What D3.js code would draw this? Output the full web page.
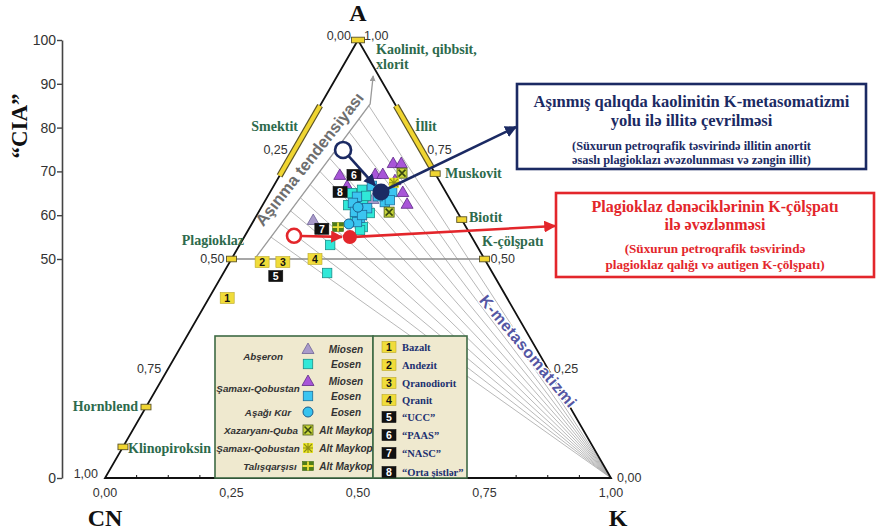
<!DOCTYPE html>
<html><head><meta charset="utf-8">
<script src="https://cdn.jsdelivr.net/npm/d3@7"></script>
<style>body{margin:0;background:#fff}svg{display:block}</style>
</head><body>
<svg id="chart" width="881" height="531"></svg>
<script>
// ---- data: compositions as [A, CN, K] molar fractions ----
const abseronMiosen = [[0.589,0.294,0.117],[0.637,0.152,0.211]];
const abseronEosen = [
  [0.651,0.187,0.163],[0.658,0.163,0.179],[0.628,0.176,0.196],[0.612,0.194,0.194],
  [0.596,0.208,0.196],[0.573,0.204,0.223],[0.605,0.174,0.221],[0.532,0.289,0.179],
  [0.468,0.327,0.205],[0.566,0.213,0.221],[0.644,0.162,0.194],[0.623,0.208,0.169]];
const samaxiMiosen = [
  [0.692,0.190,0.118],[0.667,0.188,0.145],[0.694,0.119,0.187],[0.694,0.104,0.202],
  [0.719,0.071,0.210],[0.719,0.055,0.226],[0.680,0.087,0.233],[0.653,0.085,0.262],
  [0.626,0.090,0.284]];
const samaxiEosen = [
  [0.642,0.181,0.177],[0.628,0.196,0.176],[0.616,0.174,0.210],[0.594,0.199,0.207],
  [0.585,0.210,0.206],[0.630,0.132,0.238],[0.653,0.106,0.241],[0.607,0.202,0.190],
  [0.601,0.192,0.208],[0.644,0.139,0.218],[0.635,0.120,0.246],[0.667,0.139,0.194]];
const asagiKurEosen = [[0.619,0.191,0.191],[0.580,0.228,0.192]];
const xazaryaniAltMaykop = [[0.696,0.065,0.239],[0.607,0.135,0.258]];
const samaxiAltMaykop = [[0.674,0.092,0.234]];
const talisAltMaykop = [[0.573,0.253,0.174]];

// reference rocks and average compositions
const refLabels = ["1","2","3","4","5","6","7","8"];
const refNames = ["Bazalt","Andezit","Qranodiorit","Qranit","\u201CUCC\u201D","\u201CPAAS\u201D","\u201CNASC\u201D","\u201COrta \u015Fistl\u0259r\u201D"];
const refValues = [
  [0.411,0.553,0.036],[0.493,0.443,0.064],[0.493,0.402,0.105],[0.500,0.335,0.165],
  [0.461,0.432,0.107],[0.692,0.162,0.146],[0.569,0.287,0.144],[0.653,0.209,0.138]];

// predicted (open) and observed mean (filled) compositions
const illitePath = [[0.749,0.155,0.096],[0.653,0.128,0.219]];
const kfsPath = [[0.553,0.350,0.097],[0.550,0.241,0.209]];

// weathering trend (polyline) and K-metasomatism tie-lines (A value where each meets the trend)
const trendLine = [[0.502,0.452,0.046],[0.854,0.049,0.097],[0.918,0.011,0.071]];
const tieLineA = [0.55,0.58,0.61,0.64,0.67,0.70,0.73,0.76,0.79,0.82,0.85];

// mineral reference positions
const edgeMinerals = [
  {name:"Plagioklaz", v:[0.5,0.5,0]},
  {name:"K-\u00E7\u00F6l\u015Fpat\u0131", v:[0.5,0,0.5]},
  {name:"Biotit", v:[0.59,0,0.41]},
  {name:"Muskovit", v:[0.695,0,0.305]},
  {name:"Hornblend", v:[0.162,0.838,0]},
  {name:"Klinopiroksin", v:[0.071,0.929,0]},
  {name:"Kaolinit", v:[1,0,0]}];
const smectiteRange = [0.69,0.85];
const illiteRange = [0.71,0.85];

const edgeTicks = [0,0.25,0.5,0.75,1];
const baseMinorTicks = [0.0625,0.125,0.1875,0.3125,0.375,0.4375,0.5625,0.625,0.6875,0.8125,0.875,0.9375];
const ciaTicks = [0,50,60,70,80,90,100];

// ---- layout ----
const svg = d3.select("#chart");
const xB = d3.scaleLinear().domain([0,1]).range([105,611]);
const yA = d3.scaleLinear().domain([0,1]).range([478,40]);
const yCIA = d3.scaleLinear().domain([0,100]).range([478,40]);
function proj(v){const s=v[0]+v[1]+v[2];const a=v[0]/s,k=v[2]/s;return [xB(k+a/2),yA(a)];}

const defs = svg.append("defs");
function arrowMarker(id,color){
  defs.append("marker").attr("id",id).attr("viewBox","0 0 10 10").attr("refX",9).attr("refY",5)
    .attr("markerWidth",4.6).attr("markerHeight",4.6).attr("orient","auto")
    .append("path").attr("d","M0,0 L10,5 L0,10 Z").attr("fill",color);
}
arrowMarker("arrNavy","#1b2a63");
arrowMarker("arrRed","#e3262b");
arrowMarker("arrGray","#9a9a9a");

const serif = "'Liberation Serif','Times New Roman',serif";
const sans = "'Liberation Sans',Arial,sans-serif";
const green = "#2d6a4c";

// CIA scale
const ciaAxis = d3.axisLeft(yCIA).tickValues(ciaTicks).tickSize(5).tickSizeOuter(0).tickFormat(d3.format("d"));
const gC = svg.append("g").attr("transform","translate(62,0)").call(ciaAxis);
gC.select(".domain").attr("stroke","#444").attr("stroke-width",1.6);
gC.selectAll(".tick line").attr("stroke","#444").attr("stroke-width",1.4);
gC.selectAll(".tick text").attr("font-family",sans).attr("font-size",14).attr("fill","#333").attr("x",-6);
svg.append("text").attr("transform","translate(27,126) rotate(-90)").attr("text-anchor","middle")
  .attr("font-family",serif).attr("font-weight","bold").attr("font-size",23).attr("fill","#111").text("\u201CCIA\u201D");

// tie-lines from K apex to the lower leg of the weathering trend
const kApex = proj([0,0,1]);
const t0 = trendLine[0], t1 = trendLine[1];
function trendAt(a){const f=(a-t0[0])/(t1[0]-t0[0]);return [a,t0[1]+f*(t1[1]-t0[1]),t0[2]+f*(t1[2]-t0[2])];}
svg.append("g").selectAll("line").data(tieLineA).join("line")
  .attr("x1",kApex[0]).attr("y1",kApex[1])
  .attr("x2",d=>proj(trendAt(d))[0]).attr("y2",d=>proj(trendAt(d))[1])
  .attr("stroke","#ababab").attr("stroke-width",0.85);

// feldspar join A = 0.5
const pl = proj([0.5,0.5,0]), kf = proj([0.5,0,0.5]);
svg.append("line").attr("x1",pl[0]).attr("y1",pl[1]).attr("x2",kf[0]).attr("y2",kf[1])
  .attr("stroke","#8a8a8a").attr("stroke-width",1.3);

// weathering trend arrow
const tp = trendLine.map(proj);
svg.append("path").attr("d",d3.line()(tp)).attr("fill","none")
  .attr("stroke","#9a9a9a").attr("stroke-width",1.3).attr("marker-end","url(#arrGray)");
const ang = Math.atan2(tp[1][1]-tp[0][1],tp[1][0]-tp[0][0]);
const along = 0.58, off = 10; // label sits on the left side of the lower leg
const mx = tp[0][0]+along*(tp[1][0]-tp[0][0]), my = tp[0][1]+along*(tp[1][1]-tp[0][1]);
const tx = mx + off*Math.sin(ang), ty = my - off*Math.cos(ang);
svg.append("text").attr("transform",`translate(${tx},${ty}) rotate(${ang*180/Math.PI+1.5})`)
  .attr("text-anchor","middle").attr("font-family",sans).attr("font-weight","bold").attr("font-size",16.5)
  .attr("fill","#6e6e6e").attr("stroke","#fff").attr("stroke-width",3).attr("paint-order","stroke")
  .text("A\u015F\u0131nma tendensiyas\u0131");

// triangle frame
const vA = proj([1,0,0]), vCN = proj([0,1,0]), vK = proj([0,0,1]);
svg.append("path").attr("d",`M${vA}L${vCN}L${vK}Z`).attr("fill","none").attr("stroke","#111").attr("stroke-width",1.8);
svg.append("g").selectAll("line").data(baseMinorTicks).join("line")
  .attr("x1",d=>xB(d)).attr("x2",d=>xB(d)).attr("y1",478).attr("y2",475).attr("stroke","#111").attr("stroke-width",1);

// edge tick labels
const tickFmt = d3.format(".2f");
const lab = d=>tickFmt(d).replace(".",",");
const tg = svg.append("g").attr("font-family",sans).attr("font-size",12.5).attr("fill","#333");
edgeTicks.forEach(t=>{
  const b = proj([0,1-t,t]);
  tg.append("text").attr("x",b[0]).attr("y",b[1]+19).attr("text-anchor","middle").text(lab(t));
  const l = proj([1-t,t,0]);
  tg.append("text").attr("x",l[0]-7).attr("y",l[1]+(t===0||t===1?0:4)).attr("text-anchor","end").text(lab(t));
  const r = proj([t,0,1-t]);
  tg.append("text").attr("x",r[0]+6).attr("y",r[1]+(t===1?0:4)).attr("text-anchor","start").text(lab(t));
});

// vertex names
const vt = svg.append("g").attr("font-family",serif).attr("font-weight","bold").attr("font-size",24).attr("fill","#111").attr("text-anchor","middle");
vt.append("text").attr("x",vA[0]).attr("y",21).text("A");
vt.append("text").attr("x",vCN[0]).attr("y",526).text("CN");
vt.append("text").attr("x",vK[0]+7).attr("y",526).text("K");

// clay bars on the edges
function edgeBar(p,q){
  svg.append("line").attr("x1",p[0]).attr("y1",p[1]).attr("x2",q[0]).attr("y2",q[1])
    .attr("stroke","#5a5226").attr("stroke-width",6.5);
  svg.append("line").attr("x1",p[0]).attr("y1",p[1]).attr("x2",q[0]).attr("y2",q[1])
    .attr("stroke","#f0d531").attr("stroke-width",4.2);
}
edgeBar(proj([smectiteRange[0],1-smectiteRange[0],0]),proj([smectiteRange[1],1-smectiteRange[1],0]));
edgeBar(proj([illiteRange[0],0,1-illiteRange[0]]),proj([illiteRange[1],0,1-illiteRange[1]]));

// mineral markers
edgeMinerals.forEach(m=>{
  const p = proj(m.v); const w = m.name==="Kaolinit"?13:10;
  svg.append("rect").attr("x",p[0]-w/2).attr("y",p[1]-2.8).attr("width",w).attr("height",5.6)
    .attr("fill","#f0d531").attr("stroke","#5a5226").attr("stroke-width",0.9);
});

// mineral names
const mg = svg.append("g").attr("font-family",serif).attr("font-weight","bold").attr("font-size",14).attr("fill",green);
mg.append("text").attr("x",376).attr("y",54).text("Kaolinit, qibbsit,");
mg.append("text").attr("x",376).attr("y",69).text("xlorit");
mg.append("text").attr("x",298).attr("y",131).attr("text-anchor","end").text("Smektit");
mg.append("text").attr("x",415).attr("y",131).text("\u0130llit");
mg.append("text").attr("x",445).attr("y",178).text("Muskovit");
mg.append("text").attr("x",469).attr("y",222).text("Biotit");
mg.append("text").attr("x",482).attr("y",246).text("K-\u00E7\u00F6l\u015Fpat\u0131");
mg.append("text").attr("x",244).attr("y",245).attr("text-anchor","end").text("Plagioklaz");
mg.append("text").attr("x",138).attr("y",411).attr("text-anchor","end").text("Hornblend");
mg.append("text").attr("x",128).attr("y",453).text("Klinopiroksin");

// K-metasomatism label
svg.append("text").attr("transform","translate(524,355) rotate(50)").attr("text-anchor","middle")
  .attr("font-family",sans).attr("font-weight","bold").attr("font-size",16).attr("letter-spacing",0.6).attr("fill","#5456a3")
  .attr("stroke","#fff").attr("stroke-width",2.5).attr("paint-order","stroke").text("K-metasomatizmi");

// ---- symbols ----
const symStyle = {
  triA:{fill:"#a99bcb",stroke:"#6d6296"},
  sqA:{fill:"#30e8d8",stroke:"#1b8f89"},
  triS:{fill:"#a855d8",stroke:"#5d2a86"},
  sqS:{fill:"#3bc5f1",stroke:"#1d6e9c"},
  circ:{fill:"#36c3ef",stroke:"#1b5c8c"},
  xq:{fill:"#c8d53a",stroke:"#4a5a14"},
  star:{fill:"#e9e42a",stroke:"#9a9a1a"},
  plus:{fill:"#e8da3a",stroke:"#3d6a16"}
};
function drawSym(g,type,x,y){
  const s = symStyle[type];
  if(type==="triA"||type==="triS"){
    g.append("path").attr("d",`M${x},${y-6}L${x+6},${y+4.5}L${x-6},${y+4.5}Z`).attr("fill",s.fill).attr("stroke",s.stroke).attr("stroke-width",0.8);
  } else if(type==="circ"){
    g.append("circle").attr("cx",x).attr("cy",y).attr("r",5).attr("fill",s.fill).attr("stroke",s.stroke).attr("stroke-width",1);
  } else if(type==="sqA"||type==="sqS"){
    g.append("rect").attr("x",x-4.7).attr("y",y-4.7).attr("width",9.4).attr("height",9.4).attr("fill",s.fill).attr("stroke",s.stroke).attr("stroke-width",0.8);
  } else if(type==="xq"){
    g.append("rect").attr("x",x-5).attr("y",y-5).attr("width",10).attr("height",10).attr("fill",s.fill).attr("stroke",s.stroke).attr("stroke-width",0.8);
    g.append("path").attr("d",`M${x-3.5},${y-3.5}L${x+3.5},${y+3.5}M${x+3.5},${y-3.5}L${x-3.5},${y+3.5}`).attr("stroke","#3a4a10").attr("stroke-width",1.6);
  } else if(type==="star"){
    g.append("rect").attr("x",x-5).attr("y",y-5).attr("width",10).attr("height",10).attr("fill",s.fill);
    g.append("path").attr("d",`M${x-4},${y-4}L${x+4},${y+4}M${x+4},${y-4}L${x-4},${y+4}M${x},${y-5}L${x},${y+5}M${x-5},${y}L${x+5},${y}`).attr("stroke","#8f8f14").attr("stroke-width",1.1);
  } else if(type==="plus"){
    g.append("rect").attr("x",x-5.5).attr("y",y-4.5).attr("width",11).attr("height",9).attr("fill","#4f7d18").attr("stroke",s.stroke).attr("stroke-width",0.6);
    g.append("path").attr("d",`M${x-5.5},${y}L${x+5.5},${y}M${x},${y-4.5}L${x},${y+4.5}`).attr("stroke","#ecdf3c").attr("stroke-width",1.8);
  }
}

// sample points
const pts = svg.append("g");
[[abseronMiosen,"triA"],[samaxiMiosen,"triS"],[abseronEosen,"sqA"],[samaxiEosen,"sqS"],
 [asagiKurEosen,"circ"],[talisAltMaykop,"plus"],[xazaryaniAltMaykop,"xq"],[samaxiAltMaykop,"star"]]
 .forEach(([arr,type])=>arr.forEach(v=>{const p=proj(v);drawSym(pts,type,p[0],p[1]);}));

// reference compositions (numbered boxes)
function numBox(g,label,x,y){
  const dark = +label>=5;
  g.append("rect").attr("x",x-7).attr("y",y-5.5).attr("width",14).attr("height",11)
    .attr("fill",dark?"#111":"#f0dc3a").attr("stroke",dark?"#111":"#b9a72a").attr("stroke-width",0.6);
  g.append("text").attr("x",x).attr("y",y+4).attr("text-anchor","middle").attr("font-family",sans)
    .attr("font-weight","bold").attr("font-size",10.5).attr("fill",dark?"#fff":"#111").text(label);
}
const rg = svg.append("g");
refValues.forEach((v,i)=>{const p=proj(v);numBox(rg,refLabels[i],p[0],p[1]);});

// composition shift arrows
function shiftArrow(path,color,marker,r){
  const a = proj(path[0]), b = proj(path[1]);
  const dx=b[0]-a[0], dy=b[1]-a[1], L=Math.hypot(dx,dy);
  svg.append("line").attr("x1",a[0]+dx/L*r).attr("y1",a[1]+dy/L*r).attr("x2",b[0]-dx/L*(r+1)).attr("y2",b[1]-dy/L*(r+1))
    .attr("stroke",color).attr("stroke-width",2.6).attr("marker-end",`url(#${marker})`);
  svg.append("circle").attr("cx",a[0]).attr("cy",a[1]).attr("r",r).attr("fill","#fff").attr("stroke",color).attr("stroke-width",2.6);
  return b;
}
const nb = shiftArrow(illitePath,"#1b2a63","arrNavy",8);
const rb = shiftArrow(kfsPath,"#e3262b","arrRed",7);

// callout lines to the explanation boxes
svg.append("line").attr("x1",nb[0]).attr("y1",nb[1]).attr("x2",516).attr("y2",127)
  .attr("stroke","#1b2a63").attr("stroke-width",2.6).attr("marker-end","url(#arrNavy)");
svg.append("line").attr("x1",rb[0]).attr("y1",rb[1]).attr("x2",555).attr("y2",226)
  .attr("stroke","#e3262b").attr("stroke-width",2.6).attr("marker-end","url(#arrRed)");
svg.append("circle").attr("cx",nb[0]).attr("cy",nb[1]).attr("r",8.5).attr("fill","#1b2a63");
svg.append("circle").attr("cx",rb[0]).attr("cy",rb[1]).attr("r",7).attr("fill","#e3262b");

// explanation boxes
function noteBox(x,y,w,h,color,lines){
  svg.append("rect").attr("x",x).attr("y",y).attr("width",w).attr("height",h).attr("fill","#fff")
    .attr("stroke",color).attr("stroke-width",2.6);
  lines.forEach(l=>svg.append("text").attr("x",x+w/2).attr("y",l.y).attr("text-anchor","middle")
    .attr("font-family",serif).attr("font-weight","bold").attr("font-size",l.size).attr("fill",color).text(l.t));
}
noteBox(517,84,349,85,"#1b2a63",[
  {t:"A\u015F\u0131nm\u0131\u015F qal\u0131qda kaolinitin K-metasomatizmi",y:107,size:16.5},
  {t:"yolu il\u0259 illit\u0259 \u00E7evrilm\u0259si",y:126,size:16.5},
  {t:"(S\u00FCxurun petroqrafik t\u0259svirind\u0259 illitin anortit",y:150,size:12.3},
  {t:"\u0259sasl\u0131 plagioklaz\u0131 \u0259v\u0259zolunmas\u0131 v\u0259 z\u0259ngin illit)",y:163.5,size:12.3}]);
noteBox(556,193,318,84,"#e3262b",[
  {t:"Plagioklaz d\u0259n\u0259cikl\u0259rinin K-\u00E7\u00F6l\u015Fpat\u0131",y:212,size:16},
  {t:"il\u0259 \u0259v\u0259zl\u0259nm\u0259si",y:230,size:16},
  {t:"(S\u00FCxurun petroqrafik t\u0259svirind\u0259",y:253,size:13.2},
  {t:"plagioklaz qal\u0131\u011F\u0131 v\u0259 autigen K-\u00E7\u00F6l\u015Fpat\u0131)",y:268.5,size:13.2}]);

// ---- legend ----
const legRegions = [
  {t:"Ab\u015Feron",y:356},{t:"\u015Eamax\u0131-Qobustan",y:388},{t:"A\u015Fa\u011F\u0131 K\u00FCr",y:412},
  {t:"Xazaryan\u0131-Quba",y:430},{t:"\u015Eamax\u0131-Qobustan",y:448},{t:"Tal\u0131\u015Fqar\u015F\u0131s\u0131",y:466}];
const legRegionX = [263,258,268,261,258,270];
const legSeries = [
  {sym:"triA",t:"Miosen",y:349},{sym:"sqA",t:"Eosen",y:364},{sym:"triS",t:"Miosen",y:381},
  {sym:"sqS",t:"Eosen",y:396},{sym:"circ",t:"Eosen",y:412},{sym:"xq",t:"Alt Maykop",y:430},
  {sym:"star",t:"Alt Maykop",y:448},{sym:"plus",t:"Alt Maykop",y:466}];
const legRefY = [347,365,383,400,417,435,453,472];

const lg = svg.append("g");
lg.append("rect").attr("x",215).attr("y",336).attr("width",158).attr("height",142).attr("fill","#efe9cf").attr("stroke","#3e6a44").attr("stroke-width",1.6);
lg.append("rect").attr("x",373).attr("y",336).attr("width",94).attr("height",142).attr("fill","#efe9cf").attr("stroke","#3e6a44").attr("stroke-width",1.6);
legRegions.forEach((r,i)=>lg.append("text").attr("x",legRegionX[i]).attr("y",r.y+3.5).attr("text-anchor","middle")
  .attr("font-family",sans).attr("font-style","italic").attr("font-weight","bold").attr("font-size",9.8).attr("fill","#333").text(r.t));
legSeries.forEach(s=>{
  drawSym(lg,s.sym,308,s.y);
  lg.append("text").attr("x",346).attr("y",s.y+3.5).attr("text-anchor","middle")
    .attr("font-family",sans).attr("font-style","italic").attr("font-weight","bold").attr("font-size",10).attr("fill","#333").text(s.t);
});
refNames.forEach((n,i)=>{
  numBox(lg,refLabels[i],389,legRefY[i]);
  lg.append("text").attr("x",402).attr("y",legRefY[i]+4).attr("font-family",serif).attr("font-weight","bold")
    .attr("font-size",10.5).attr("fill","#203070").text(n);
});
</script>
</body></html>
